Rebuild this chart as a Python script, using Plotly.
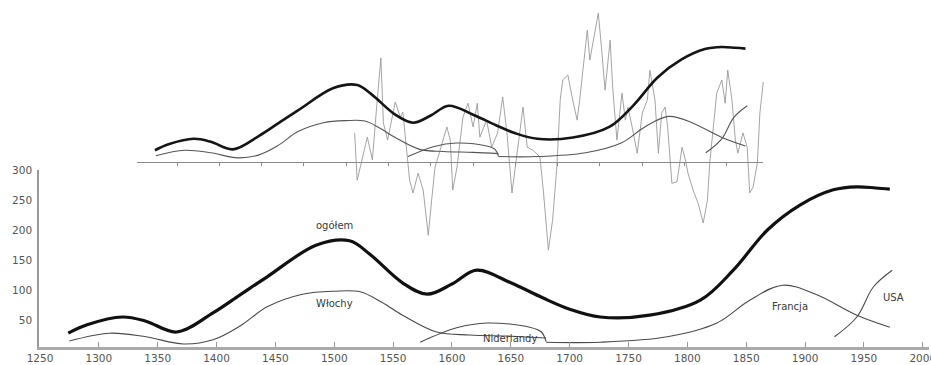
import plotly.graph_objects as go

# ---- data (index, arbitrary units) ----
ogolem_years = [1274, 1290, 1320, 1340, 1366, 1397, 1420, 1443, 1485, 1513, 1530, 1558, 1579, 1600, 1621,
                1650, 1677, 1700, 1726, 1768, 1811, 1839, 1868, 1896, 1924, 1944, 1960, 1972]
ogolem_vals = [28, 42, 55, 48, 30, 62, 92, 122, 175, 182, 160, 112, 93, 110, 133,
               112, 87, 68, 55, 58, 83, 133, 200, 242, 267, 272, 270, 268]

wlochy_years = [1275, 1309, 1340, 1372, 1397, 1420, 1443, 1473, 1500, 1522, 1540, 1558, 1587, 1615, 1650, 1680]
wlochy_vals = [15, 28, 22, 10, 17, 40, 72, 93, 98, 97, 80, 58, 30, 25, 23, 20]

nider_years = [1573, 1604, 1630, 1666, 1676, 1680]
nider_vals = [13, 37, 45, 38, 30, 14]

francja_years = [1680, 1726, 1783, 1825, 1853, 1881, 1910, 1944, 1972]
francja_vals = [13, 13, 22, 45, 83, 108, 92, 58, 38]

usa_years = [1925, 1944, 1958, 1974]
usa_vals = [22, 55, 105, 133]

# fluctuating series drawn in the upper (inset) panel
fluct_years = [1510, 1513, 1525, 1531, 1536, 1541, 1544, 1549, 1558, 1564, 1567, 1572, 1575, 1579, 1585,
               1591, 1597, 1601, 1605, 1611, 1619, 1623, 1626, 1631, 1638, 1644, 1650, 1655, 1658, 1666,
               1672, 1679, 1685, 1690, 1696, 1702, 1709, 1714, 1721, 1729, 1733, 1739, 1744, 1749, 1753,
               1756, 1762, 1767, 1773, 1776, 1780, 1785, 1788, 1792, 1798, 1802, 1806, 1812, 1815, 1820,
               1826, 1830, 1833, 1838, 1844, 1850, 1856, 1859, 1865, 1869, 1873, 1877, 1880, 1885, 1891,
               1897, 1901, 1904, 1910, 1916, 1922, 1927, 1930, 1934, 1938, 1944, 1948, 1951, 1956, 1960,
               1963, 1969, 1974, 1977, 1981, 1986, 1989, 1993]
fluct_vals = [69, -43, 59, 5, 130, 246, 92, 52, 142, 106, 118, 12, -43, -73, -26,
              -66, -173, -90, -12, 28, 83, 52, -66, -12, 106, 139, 83, 139, 59, 99,
              35, 69, 154, 69, -73, 21, 130, 35, 28, 12, -66, -208, -137, -12, 147,
              194, 206, 154, 99, 147, 225, 312, 241, 284, 352, 265, 170, 288, 177, 52,
              163, 99, 130, 83, 21, 116, 147, 217, 147, 21, 116, 130, 83, -50, -47,
              35, 5, -26, -66, -97, -144, -90, 5, 83, 163, 194, 139, 217, 147, 52,
              21, 69, 35, -73, -59, -2, 116, 189]

x_ticks = [1250, 1300, 1350, 1400, 1450, 1500, 1550, 1600, 1650, 1700, 1750, 1800, 1850, 1900, 1950, 2000]
y_ticks = [50, 100, 150, 200, 250, 300]

labels = [("ogółem", 1500, 207), ("Włochy", 1500, 78), ("Niderlandy", 1649, 20),
          ("Francja", 1887, 73), ("USA", 1975, 88)]

thin = "#4a4a4a"
fig = go.Figure()

# main panel
for xs, ys, w, c in [(wlochy_years, wlochy_vals, 1.1, thin), (nider_years, nider_vals, 1.1, thin),
                     (francja_years, francja_vals, 1.1, thin), (usa_years, usa_vals, 1.1, thin),
                     (ogolem_years, ogolem_vals, 3.2, "#111111")]:
    fig.add_trace(go.Scatter(x=xs, y=ys, mode="lines", line=dict(color=c, width=w, shape="spline"),
                             xaxis="x", yaxis="y", showlegend=False, hoverinfo="skip"))

# inset panel (compressed copy + fluctuation)
fig.add_trace(go.Scatter(x=fluct_years, y=fluct_vals, mode="lines", line=dict(color="#9a9a9a", width=0.9),
                         xaxis="x2", yaxis="y2", showlegend=False, hoverinfo="skip"))
for xs, ys, w, c in [(wlochy_years, wlochy_vals, 1.1, "#555555"), (nider_years, nider_vals, 1.1, "#555555"),
                     (francja_years, francja_vals, 1.1, "#555555"), (usa_years, usa_vals, 1.1, "#555555"),
                     (ogolem_years, ogolem_vals, 2.6, "#151515")]:
    fig.add_trace(go.Scatter(x=xs, y=ys, mode="lines", line=dict(color=c, width=w, shape="spline"),
                             xaxis="x2", yaxis="y2", showlegend=False, hoverinfo="skip"))
# carrier for the inset baseline axis
fig.add_trace(go.Scatter(x=[1300], y=[0], mode="lines", xaxis="x3", yaxis="y2",
                         showlegend=False, hoverinfo="skip", line=dict(width=0)))

for t, x, y in labels:
    fig.add_annotation(x=x, y=y, xref="x", yref="y", text=t, showarrow=False,
                       font=dict(family="DejaVu Sans", size=10, color="#3a3a3a"))

H = 347.0
fig.update_layout(
    width=931, height=365,
    margin=dict(l=39, r=2, t=0, b=18),
    paper_bgcolor="white", plot_bgcolor="rgba(0,0,0,0)",
    font=dict(family="DejaVu Sans", size=10.5, color="#555555"),
    xaxis=dict(domain=[0, 1], range=[1249.15, 2005.3], tickvals=x_ticks, showgrid=False, zeroline=False,
               showline=True, linecolor="#aaaaaa", linewidth=2.5, ticks="inside", ticklen=5,
               tickcolor="#999999", anchor="y", ticklabeloverflow="allow", automargin=False,
               tickfont=dict(size=10.5, color="#555555")),
    yaxis=dict(domain=[0, 177 / H], range=[5, 300], tickvals=y_ticks, showgrid=False, zeroline=False,
               showline=True, linecolor="#999999", linewidth=1.5, ticks="", anchor="x", automargin=False,
               ticklabelstandoff=3, tickfont=dict(size=10.5, color="#555555")),
    xaxis2=dict(domain=[0, 1], range=[1136.9, 2188.9], visible=False, anchor="y2"),
    yaxis2=dict(domain=[0, 1], range=[-437, 383], visible=False, anchor="x2"),
    xaxis3=dict(domain=[(137 - 39) / 890, (763 - 39) / 890], range=[1252.7, 1992.7], anchor="free",
                position=(H - 162) / H, showline=True, linecolor="#8a8a8a", linewidth=1,
                ticks="outside", ticklen=3, tickcolor="#8a8a8a", tick0=1300, dtick=50,
                showticklabels=False, showgrid=False, zeroline=False),
)

fig.write_html("out.html", config={"displayModeBar": False},
               post_script="document.body.style.margin='0px';document.body.style.padding='0px';")
